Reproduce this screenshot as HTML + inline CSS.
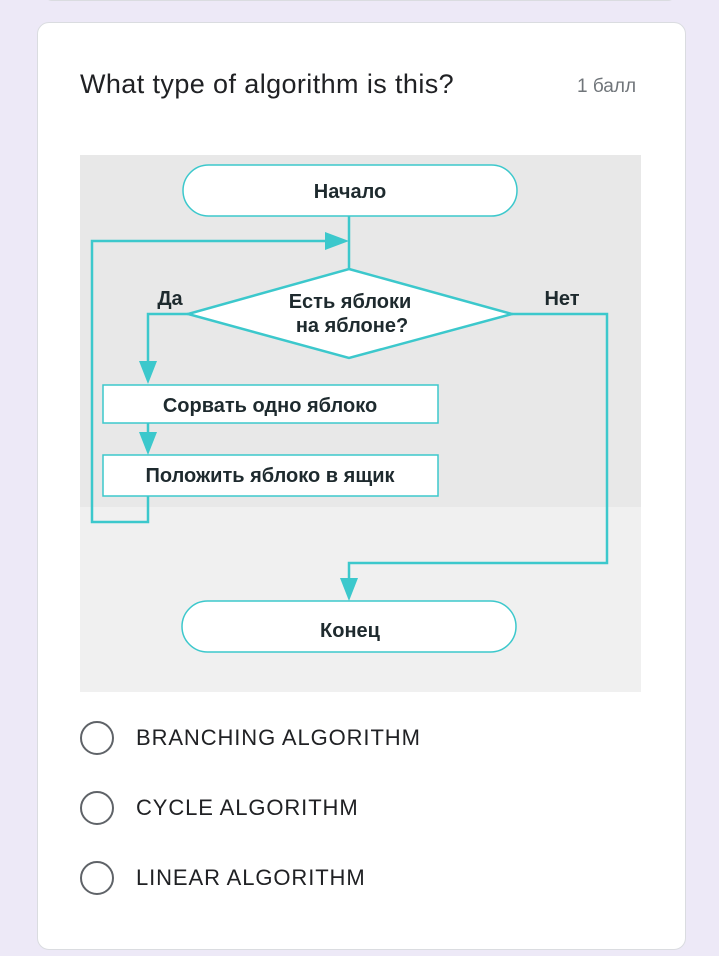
<!DOCTYPE html>
<html><head><meta charset="utf-8"><style>
body{margin:0;width:719px;height:956px;background:#ede9f7;position:relative;overflow:hidden;font-family:"Liberation Sans",sans-serif}
.top{position:absolute;left:44px;top:-10px;width:632px;height:10px;background:#fff;border-radius:0 0 8px 8px;border-bottom:1px solid #dadce0}
.card{position:absolute;left:37px;top:22px;width:647px;height:926px;background:#fff;border-radius:12px;border:1px solid #dadce0}
.q{position:absolute;left:80px;top:69px;font-size:27px;letter-spacing:0.4px;color:#202124}
.pts{position:absolute;left:577px;top:76px;font-size:19px;color:#70757a}
.opt{position:absolute;left:136px;font-size:22px;letter-spacing:0.9px;color:#202124}
.rad{position:absolute;left:80px;width:30px;height:30px;border:2.5px solid #5f6368;border-radius:50%}
</style></head><body>
<div class="top"></div>
<div class="card"></div>
<div class="q">What type of algorithm is this?</div>
<div class="pts">1 балл</div>
<svg style="position:absolute;left:0;top:0" width="719" height="956">
<rect x="80" y="155" width="561" height="352" fill="#e8e8e8"/>
<rect x="80" y="507" width="561" height="185" fill="#f0f0f0"/>
<g stroke="#3cc8cc" stroke-width="2.5" fill="none">
<rect x="183" y="165" width="334" height="51" rx="25.5" fill="#fff" stroke-width="1.5"/>
<rect x="182" y="601" width="334" height="51" rx="25.5" fill="#fff" stroke-width="1.5"/>
<polygon points="349,269 512,314 349,358 188,314" fill="#fff"/>
<rect x="103" y="385" width="335" height="38" fill="#fff" stroke-width="1.5"/>
<rect x="103" y="455" width="335" height="41" fill="#fff" stroke-width="1.5"/>
<polyline points="349,216 349,269"/>
<polyline points="188,314 148,314 148,370"/>
<polyline points="148,423 148,442"/>
<polyline points="148,496 148,522 92,522 92,241 335,241"/>
<polyline points="512,314 607,314 607,563 349,563 349,588"/>
</g>
<g fill="#3cc8cc">
<polygon points="325,232 349,241 325,250"/>
<polygon points="139,361 157,361 148,384"/>
<polygon points="139,432 157,432 148,455"/>
<polygon points="340,578 358,578 349,601"/>
</g>
<g font-family="Liberation Sans, sans-serif" font-weight="bold" fill="#1e2a2e" font-size="20" text-anchor="middle">
<text x="350" y="198">Начало</text>
<text x="350" y="308">Есть яблоки</text>
<text x="352" y="332">на яблоне?</text>
<text x="270" y="412">Сорвать одно яблоко</text>
<text x="270" y="482">Положить яблоко в ящик</text>
<text x="350" y="637">Конец</text>
<text x="170" y="305">Да</text>
<text x="562" y="305">Нет</text>
</g>
</svg>
<div class="rad" style="top:721px"></div><div class="opt" style="top:725px">BRANCHING ALGORITHM</div>
<div class="rad" style="top:791px"></div><div class="opt" style="top:795px">CYCLE ALGORITHM</div>
<div class="rad" style="top:861px"></div><div class="opt" style="top:865px">LINEAR ALGORITHM</div>
</body></html>
